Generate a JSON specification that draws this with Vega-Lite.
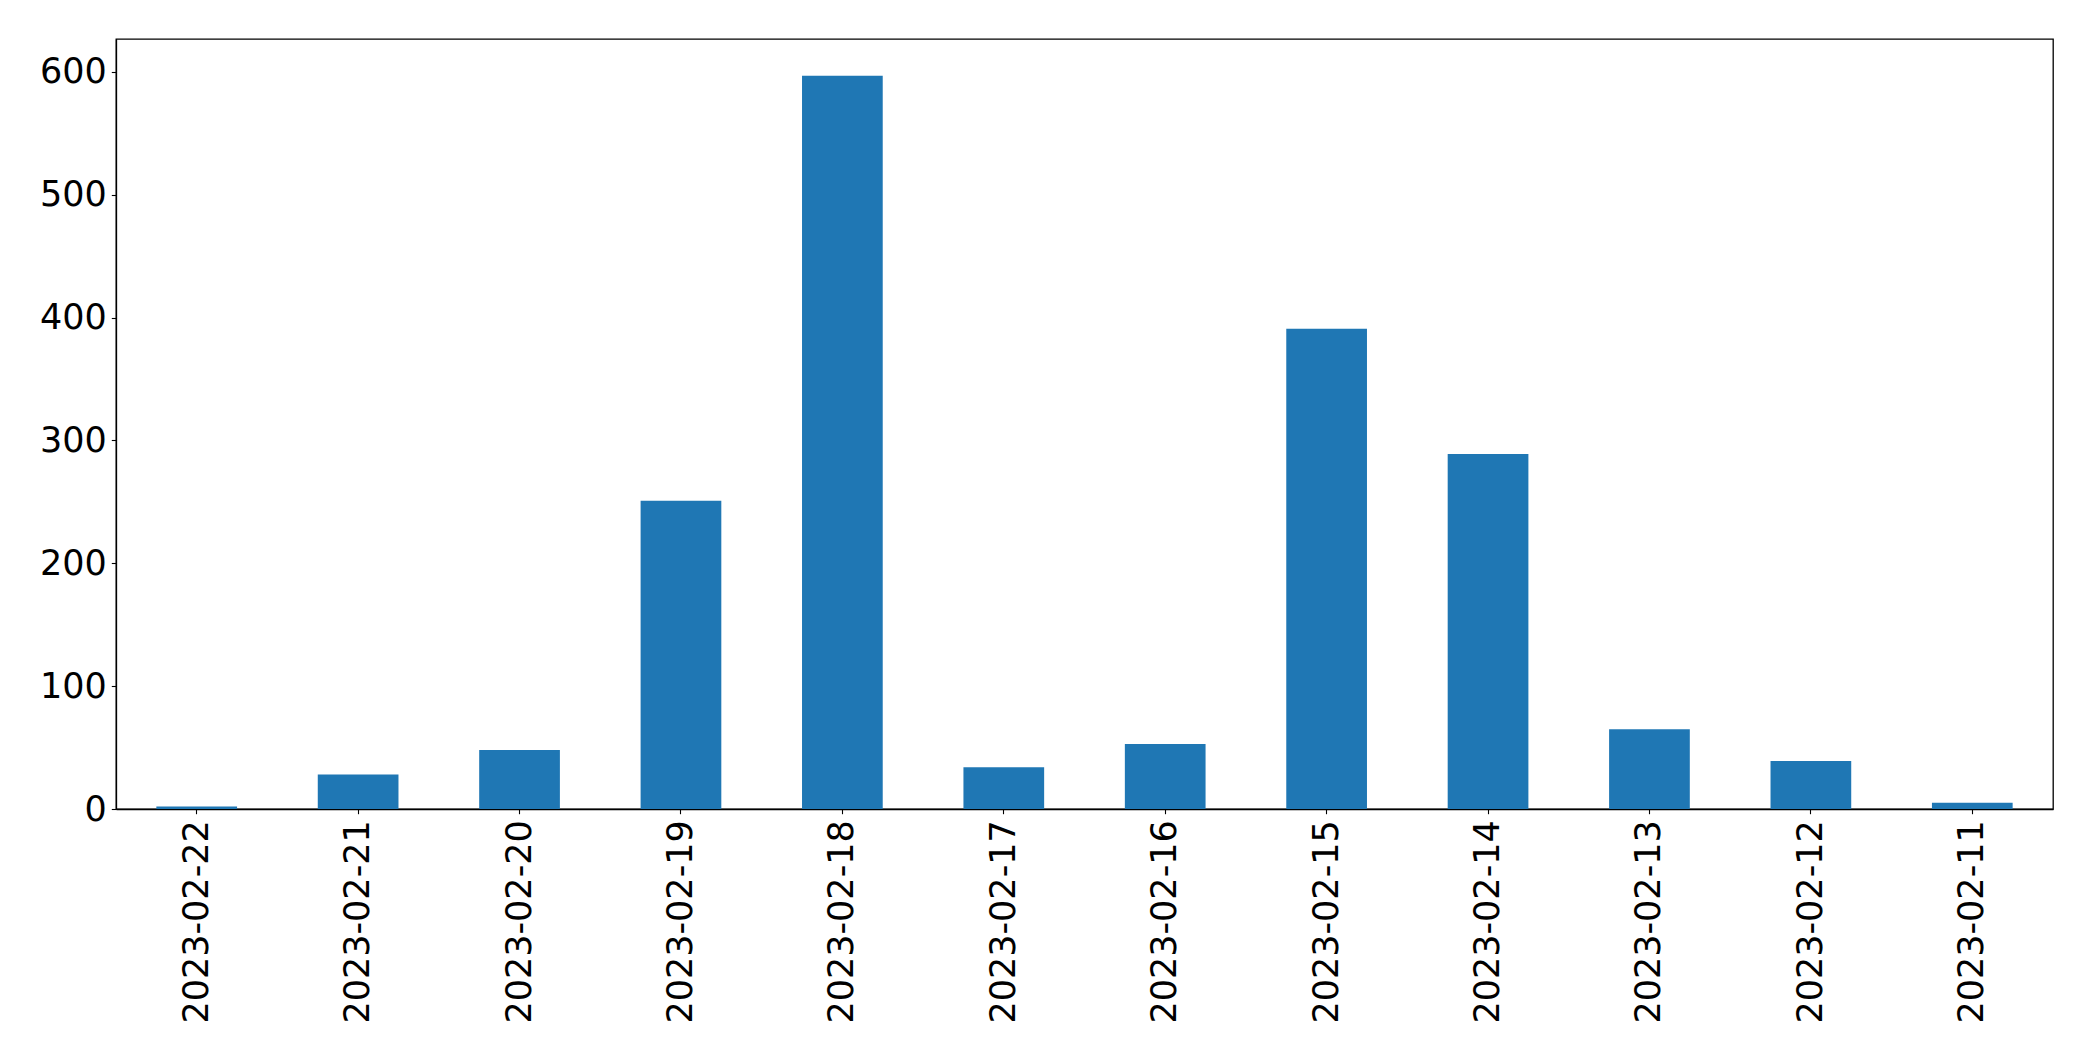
{
  "$schema": "https://vega.github.io/schema/vega-lite/v6.json",
  "width": 1937,
  "height": 770,
  "autosize": {"type": "none"},
  "padding": {"left": 116, "top": 39, "right": 40, "bottom": 252},
  "background": "white",
  "config": {
    "view": {"stroke": "black", "strokeWidth": 1.3},
    "axis": {
      "labelFont": "DejaVu Sans",
      "labelFontSize": 35,
      "labelColor": "black",
      "labelLimit": 500,
      "tickColor": "black",
      "tickSize": 4.7,
      "tickWidth": 1.1,
      "domainColor": "black",
      "domainWidth": 1.3,
      "grid": false,
      "title": null
    }
  },
  "data": {
    "values": [
      {"date": "2023-02-22", "count": 2},
      {"date": "2023-02-21", "count": 28},
      {"date": "2023-02-20", "count": 48},
      {"date": "2023-02-19", "count": 251},
      {"date": "2023-02-18", "count": 597},
      {"date": "2023-02-17", "count": 34},
      {"date": "2023-02-16", "count": 53},
      {"date": "2023-02-15", "count": 391},
      {"date": "2023-02-14", "count": 289},
      {"date": "2023-02-13", "count": 65},
      {"date": "2023-02-12", "count": 39},
      {"date": "2023-02-11", "count": 5}
    ]
  },
  "mark": {"type": "bar", "color": "#1f77b4"},
  "encoding": {
    "x": {
      "field": "date",
      "type": "ordinal",
      "sort": null,
      "scale": {"paddingInner": 0.5, "paddingOuter": 0.25},
      "axis": {"labelAngle": -90, "labelPadding": 6, "title": null}
    },
    "y": {
      "field": "count",
      "type": "quantitative",
      "scale": {"domain": [0, 626.85], "nice": false, "zero": true},
      "axis": {"values": [0, 100, 200, 300, 400, 500, 600], "labelPadding": 5, "title": null}
    }
  }
}
